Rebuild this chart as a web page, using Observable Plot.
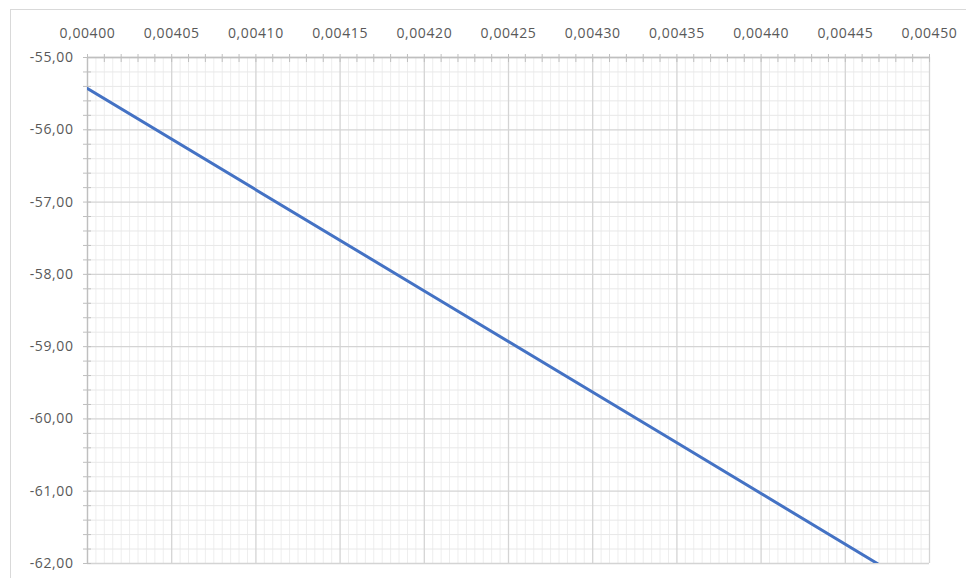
<!DOCTYPE html>
<html>
<head>
<meta charset="utf-8">
<script src="https://cdn.jsdelivr.net/npm/d3@7"></script>
<script src="https://cdn.jsdelivr.net/npm/@observablehq/plot@0.6"></script>
<style>
  html, body { margin: 0; padding: 0; background: #fff; }
  #wrap { position: relative; width: 966px; height: 578px; overflow: hidden; }
  #frame { position: absolute; left: 10px; top: 9px; width: 980px; height: 600px; border: 1px solid #d9d9d9; box-sizing: border-box; pointer-events: none; }
</style>
</head>
<body>
<div id="wrap"><div id="frame"></div></div>
<script>
// Series
const xValues = [0.00400, 0.00420, 0.00435, 0.004469];
const yValues = [-55.43, -58.23, -60.33, -62.00];

// Axis ticks / labels
const xTicks = [0.00400, 0.00405, 0.00410, 0.00415, 0.00420, 0.00425, 0.00430, 0.00435, 0.00440, 0.00445, 0.00450];
const yTicks = [-55, -56, -57, -58, -59, -60, -61, -62];
const xMinor = d3.range(400, 451).map(i => i / 100000);
const yMinor = d3.range(-310, -274).map(i => i / 5);
const xFine = d3.range(800, 901).map(i => i / 200000);

const data = xValues.map((x, i) => ({x, y: yValues[i]}));
const fmtX = d => d.toFixed(5).replace(".", ",");
const fmtY = d => d.toFixed(2).replace(".", ",");

const chart = Plot.plot({
  width: 966,
  height: 578,
  marginLeft: 87,
  marginRight: 37,
  marginTop: 57,
  marginBottom: 15,
  style: {fontFamily: "'Open Sans', sans-serif", fontSize: "14px", color: "#595959", letterSpacing: "0.6px", background: "transparent"},
  x: {domain: [0.004, 0.0045], label: null},
  y: {domain: [-62, -55], label: null},
  marks: [
    Plot.ruleX(xFine.filter((d, i) => i % 10 !== 0), {x: d => d, stroke: "#eeeeee", strokeWidth: 1}),
    Plot.ruleY(yMinor.filter((d, i) => i % 5 !== 0), {y: d => d, stroke: "#e8e8e8", strokeWidth: 1}),
    Plot.ruleX(xTicks, {x: d => d, stroke: "#d4d4d4", strokeWidth: 1.3}),
    Plot.ruleY(yTicks, {y: d => d, stroke: "#d4d4d4", strokeWidth: 1.3}),
    Plot.axisX(xMinor, {anchor: "top", label: null, tickSize: 8, dy: 4, stroke: "#bfbfbf", strokeOpacity: 1, tickFormat: () => ""}),
    Plot.axisY(yMinor, {anchor: "left", label: null, tickSize: 8, dx: 4, stroke: "#bfbfbf", strokeOpacity: 1, tickFormat: () => ""}),
    Plot.axisX(xTicks, {anchor: "top", label: null, tickSize: 0, tickPadding: 20, tickFormat: fmtX}),
    Plot.axisY(yTicks, {anchor: "left", label: null, tickSize: 0, tickPadding: 14, tickFormat: fmtY}),
    Plot.ruleY([-55], {stroke: "#bfbfbf", strokeWidth: 1.3}),
    Plot.ruleX([0.004], {stroke: "#bfbfbf", strokeWidth: 1.3}),
    Plot.line(data, {x: "x", y: "y", stroke: "#4472C4", strokeWidth: 3, clip: true})
  ]
});
chart.style.position = "absolute";
chart.style.left = "0";
chart.style.top = "0";
document.getElementById("wrap").appendChild(chart);
</script>
</body>
</html>
